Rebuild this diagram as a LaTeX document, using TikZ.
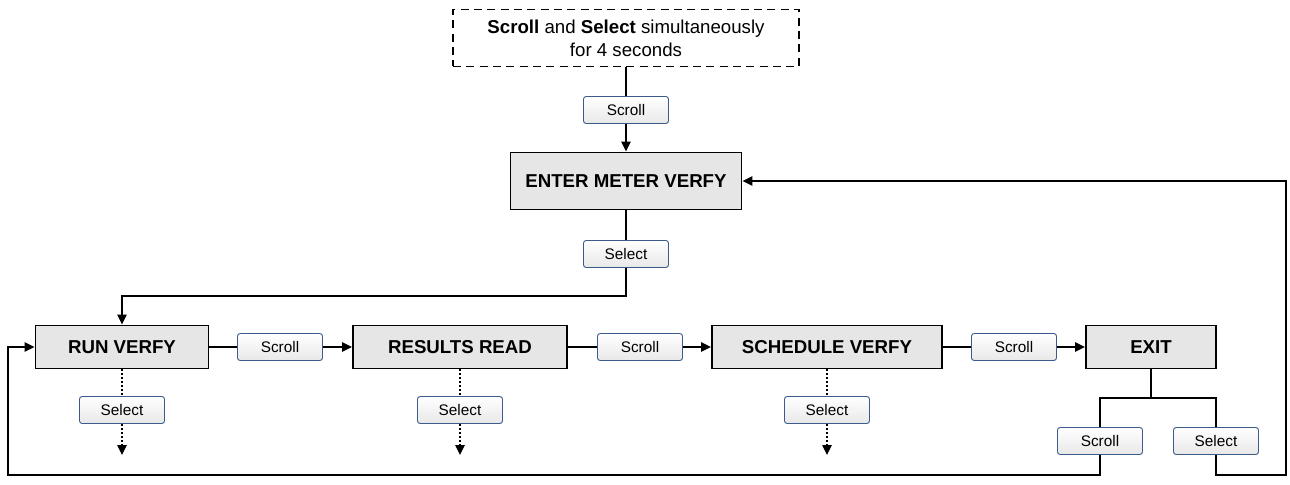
\documentclass[tikz,border=0pt]{standalone}
\usepackage{fontspec}
\setmainfont{Liberation Sans}
\usetikzlibrary{arrows.meta,positioning}
\definecolor{btnborder}{HTML}{3B5B8E}
\definecolor{boxfill}{HTML}{E6E6E6}
\tikzset{
  mainbox/.style={draw, line width=1.4pt, fill=boxfill, inner sep=0pt, font=\bfseries\fontsize{14}{16}\selectfont, minimum height=32.25pt},
  btn/.style={draw=btnborder, line width=0.7pt, rounded corners=2pt, top color=white, bottom color=gray!18, inner sep=0pt, minimum width=63.75pt, minimum height=20.25pt, font=\fontsize{11.5}{13}\selectfont},
  startbox/.style={draw, dashed, dash pattern=on 6pt off 4pt, line width=1pt, inner sep=0pt, minimum width=259.5pt, minimum height=42.75pt, align=center, font=\fontsize{14}{17}\selectfont},
  conn/.style={line width=1.1pt},
  arr/.style={conn, -{Triangle[length=7.5pt,width=7pt]}},
  dotconn/.style={conn, dash pattern=on 1.5pt off 1.5pt},
}
\begin{document}
\begin{tikzpicture}[x=0.75pt,y=-0.75pt]
\useasboundingbox (0,0) rectangle (1290,485);
\node[startbox] (start) at (626,38) {\textbf{Scroll} and \textbf{Select} simultaneously\\for 4 seconds};
\node[btn] (b1) at (626,110) {Scroll};
\node[mainbox, minimum width=173.25pt, minimum height=42.75pt] (enter) at (626,181) {ENTER METER VERFY};
\node[btn] (b2) at (626,254) {Select};
\node[mainbox, minimum width=129.75pt] (run) at (122,347) {RUN VERFY};
\node[btn] (s1) at (280,347) {Scroll};
\node[mainbox, minimum width=160.5pt] (results) at (460,347) {RESULTS READ};
\node[btn] (s2) at (640,347) {Scroll};
\node[mainbox, minimum width=172.5pt] (sched) at (827,347) {SCHEDULE VERFY};
\node[btn] (s3) at (1014,347) {Scroll};
\node[mainbox, minimum width=97.5pt] (exit) at (1151,347) {EXIT};
\node[btn] (sel1) at (122,410) {Select};
\node[btn] (sel2) at (460,410) {Select};
\node[btn] (sel3) at (827,410) {Select};
\node[btn] (xs) at (1100,441) {Scroll};
\node[btn] (xl) at (1216,441) {Select};
\coordinate (c1) at (626,296);
\coordinate (e1) at (122,455);
\coordinate (e2) at (460,455);
\coordinate (e3) at (827,455);
\coordinate (split) at (1151,398);
\coordinate (bl) at (8,475);
\coordinate (br) at (1286,475);
\draw[conn] (start) -- (b1);
\draw[arr] (b1) -- (enter);
\draw[conn] (enter) -- (b2);
\draw[arr] (b2.south) -- (c1) -| (run.north);
\draw[conn] (run) -- (s1);
\draw[arr] (s1) -- (results);
\draw[conn] (results) -- (s2);
\draw[arr] (s2) -- (sched);
\draw[conn] (sched) -- (s3);
\draw[arr] (s3) -- (exit);
\draw[dotconn] (run) -- (sel1);
\draw[dotconn, -{Triangle[length=7.5pt,width=7pt]}] (sel1) -- (e1);
\draw[dotconn] (results) -- (sel2);
\draw[dotconn, -{Triangle[length=7.5pt,width=7pt]}] (sel2) -- (e2);
\draw[dotconn] (sched) -- (sel3);
\draw[dotconn, -{Triangle[length=7.5pt,width=7pt]}] (sel3) -- (e3);
\draw[conn] (exit) -- (split);
\draw[conn] (xs.north) |- (split) -| (xl.north);
\draw[arr] (xs.south) |- (bl) |- (run.west);
\draw[arr] (xl.south) |- (br) |- (enter.east);
\end{tikzpicture}
\end{document}
